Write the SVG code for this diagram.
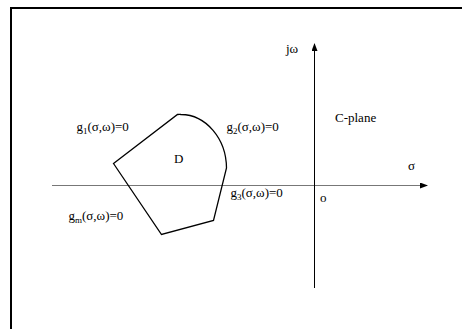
<svg xmlns="http://www.w3.org/2000/svg" width="462" height="329" viewBox="0 0 462 329">
<defs>
<marker id="ah" markerWidth="8" markerHeight="6" refX="7" refY="3" orient="auto" markerUnits="userSpaceOnUse"><path d="M0,0 L8,3 L0,6 Z" fill="#000"/></marker>
</defs>
<style>
text{font-size:13px;fill:#000}
.sub{font-size:9px}
.ax{stroke:#000;stroke-width:1;fill:none}
.frame{stroke:#000;stroke-width:2;fill:none}
</style>
<rect width="462" height="329" fill="#fff"/>
<path class="frame" d="M11,329 L11,8 L462,8" />
<g id="connectors">
<line class="ax" x1="52" y1="185.5" x2="427" y2="185.5" style="stroke:#777" marker-end="url(#ah)"/>
<line class="ax" x1="314.5" y1="288" x2="314.5" y2="44" marker-end="url(#ah)"/>
</g>
<g font-family="'Liberation Serif', 'Times New Roman', serif">
<g id="region-D">
<path d="M113.5,163.5 L177.5,114.5 Q180,114.3 181,114.5 A46 54 0 0 1 226.5,168 L213.5,220.5 L161.5,234.5 Z" fill="none" stroke="#000" stroke-width="1.3"/>
<text x="174" y="163" font-size="11">D</text>
</g>
<g id="labels">
<text x="286" y="52.5">jω</text>
<text x="335" y="121.5">C-plane</text>
<text x="408" y="170">σ</text>
<text x="320" y="201.5">o</text>
<text x="76.5" y="131">g<tspan class="sub" dy="3">1</tspan><tspan dy="-3">(σ,ω)=0</tspan></text>
<text x="226.5" y="131">g<tspan class="sub" dy="3">2</tspan><tspan dy="-3">(σ,ω)=0</tspan></text>
<text x="230.5" y="197">g<tspan class="sub" dy="3">3</tspan><tspan dy="-3">(σ,ω)=0</tspan></text>
<text x="68.5" y="220">g<tspan class="sub" dy="3">m</tspan><tspan dy="-3">(σ,ω)=0</tspan></text>
</g>
</g>
</svg>
